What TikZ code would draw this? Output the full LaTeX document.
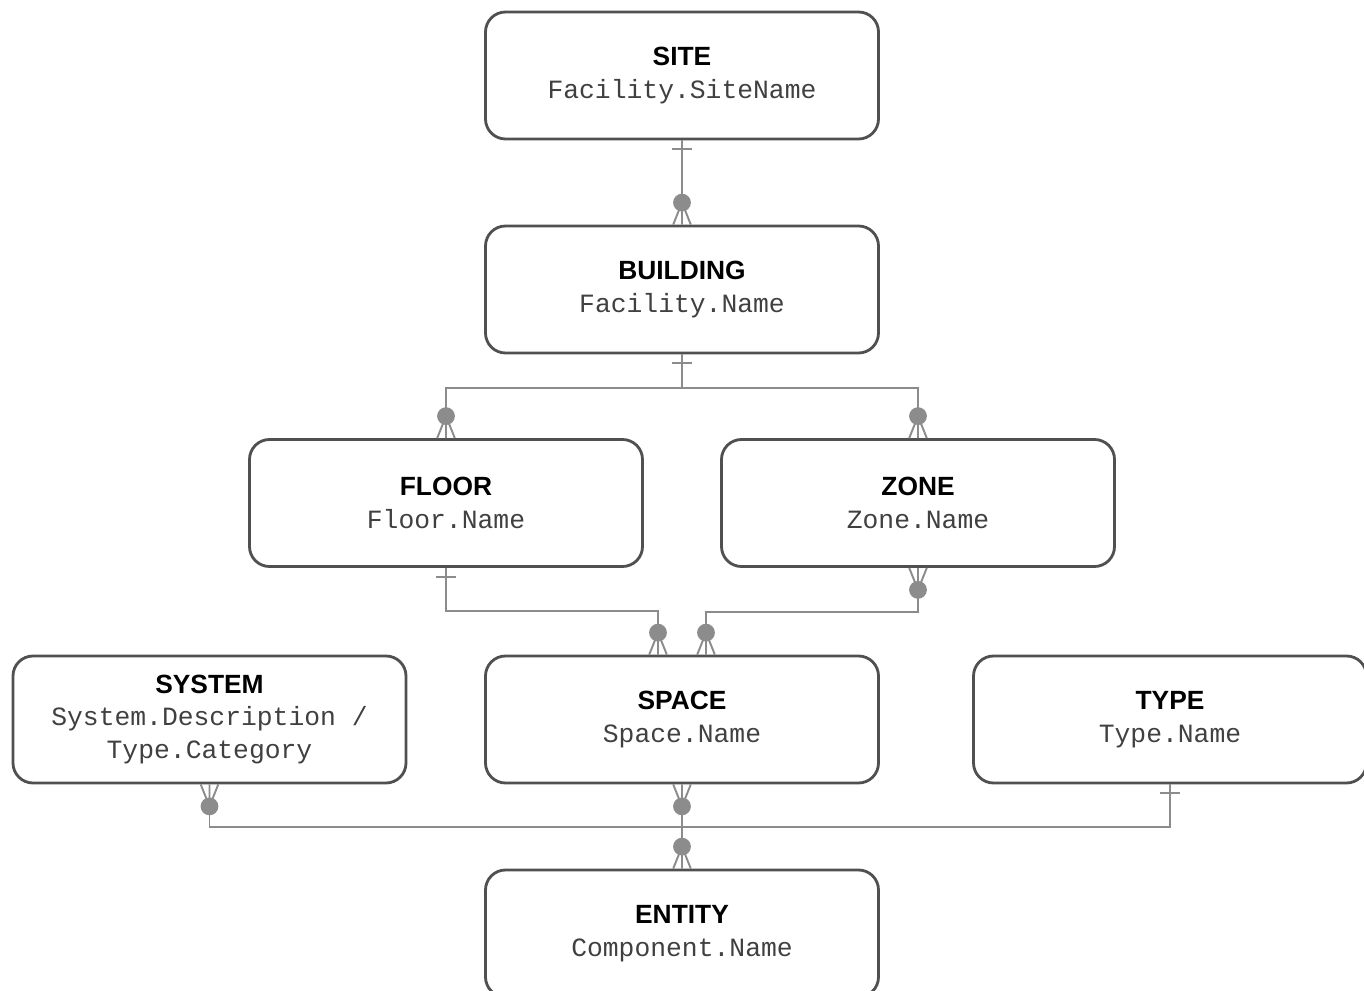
\documentclass[tikz,border=0pt]{standalone}
\usepackage{fontspec}
\setsansfont{Liberation Sans}
\setmonofont{Liberation Mono}
\usepackage{tikz}
\usetikzlibrary{calc, arrows.meta}

\definecolor{boxgray}{HTML}{505050}
\definecolor{relgray}{HTML}{8C8C8C}
\definecolor{attrgray}{HTML}{404040}

% zero-or-many end: dot plus crow's foot
\pgfdeclarearrow{
  name = zeromany,
  setup code = {
    \pgfarrowssettipend{0pt}
    \pgfarrowssetlineend{-17pt}
    \pgfarrowssetbackend{-17pt}
  },
  drawing code = {
    \pgfpathmoveto{\pgfqpoint{0pt}{5pt}}
    \pgfpathlineto{\pgfqpoint{-12.5pt}{0pt}}
    \pgfpathlineto{\pgfqpoint{0pt}{-5pt}}
    \pgfpathmoveto{\pgfqpoint{0pt}{0pt}}
    \pgfpathlineto{\pgfqpoint{-12.5pt}{0pt}}
    \pgfusepathqstroke
    \pgfpathcircle{\pgfqpoint{-12.5pt}{0pt}}{4.5pt}
    \pgfusepathqfillstroke
  }
}

% exactly-one end: a single bar
\pgfdeclarearrow{
  name = one,
  setup code = {
    \pgfarrowssettipend{0pt}
    \pgfarrowssetlineend{0pt}
    \pgfarrowssetbackend{-7pt}
  },
  drawing code = {
    \pgfpathmoveto{\pgfqpoint{-5pt}{5.5pt}}
    \pgfpathlineto{\pgfqpoint{-5pt}{-5.5pt}}
    \pgfusepathqstroke
  }
}

\begin{document}
\begin{tikzpicture}[ent/.style={draw=boxgray, line width=1.6pt, rounded corners=0.4cm, minimum width=7.86cm, minimum height=2.54cm, align=center, text=attrgray, font=\ttfamily\fontsize{15}{18.5}\selectfont},rel/.style={color=relgray, line width=1.1pt}]
  \useasboundingbox (0,0) rectangle (27.28,19.8);

  \node[ent] (site) at (13.64,18.29) {{\sffamily\bfseries\color{black}SITE}\\Facility.SiteName};
  \node[ent] (building) at (13.64,14.01) {{\sffamily\bfseries\color{black}BUILDING}\\Facility.Name};

  \node[ent] (floor) at (8.92,9.74) {{\sffamily\bfseries\color{black}FLOOR}\\Floor.Name};
  \node[ent] (zone) at (18.36,9.74) {{\sffamily\bfseries\color{black}ZONE}\\Zone.Name};

  \node[ent] (system) at (4.19,5.41) {{\sffamily\bfseries\color{black}SYSTEM}\\System.Description /\\Type.Category};
  \node[ent] (space) at (13.64,5.41) {{\sffamily\bfseries\color{black}SPACE}\\Space.Name};
  \node[ent] (type) at (23.4,5.41) {{\sffamily\bfseries\color{black}TYPE}\\Type.Name};

  \node[ent] (entity) at (13.64,1.13) {{\sffamily\bfseries\color{black}ENTITY}\\Component.Name};

  \draw[rel, one-zeromany] (site) -- (building);
  \draw[rel, one-zeromany] (building.south) -- ++(0,-0.68) -| (floor.north);
  \draw[rel, one-zeromany] (building.south) -- ++(0,-0.68) -| (zone.north);
  \draw[rel, one-zeromany] (floor.south) -- ++(0,-0.86) -| ([xshift=-0.48cm]space.north);
  \draw[rel, zeromany-zeromany] (zone.south) -- ++(0,-0.88) -| ([xshift=0.48cm]space.north);
  \draw[rel, zeromany-one] (system.south) -- ++(0,-0.86) -| (type.south);
  \draw[rel, zeromany-zeromany] (space) -- (entity);
\end{tikzpicture}
\end{document}
